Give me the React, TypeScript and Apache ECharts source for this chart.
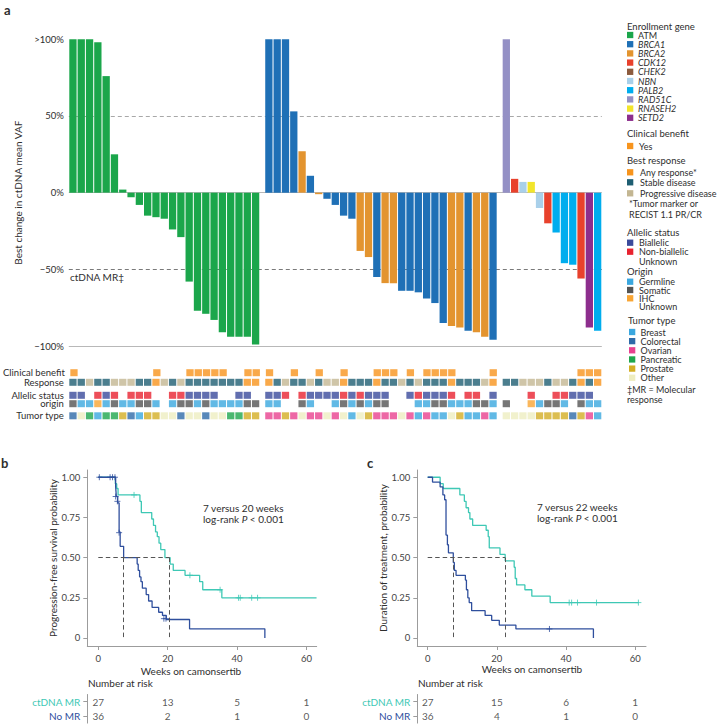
import React, { useEffect, useRef } from "react";
import * as echarts from "echarts";

const FONT = "Lato, 'Noto Sans', 'DejaVu Sans', sans-serif";
const INK = "#2e2e2e";
const AXIS_GREY = "#9c9c9c";
const TEAL = "#3ec8b5";
const NAVY = "#2f4f9d";

// ---------------- Panel a: waterfall data ----------------
const groupSizes = [23, 28, 12];
const enrollmentGene = [
  "ATM", "ATM", "ATM", "ATM", "ATM",
  "ATM", "ATM", "ATM", "ATM", "ATM",
  "ATM", "ATM", "ATM", "ATM", "ATM",
  "ATM", "ATM", "ATM", "ATM", "ATM",
  "ATM", "ATM", "ATM",
  "BRCA1", "BRCA1", "BRCA1", "BRCA1", "BRCA2", "BRCA1", "BRCA2", "BRCA1", "BRCA1", "BRCA1",
  "BRCA1", "BRCA2", "BRCA2", "BRCA1", "BRCA2", "BRCA2", "BRCA1", "BRCA1", "BRCA1", "BRCA1",
  "BRCA1", "BRCA1", "BRCA2", "BRCA2", "BRCA1", "BRCA2", "BRCA2", "BRCA1",
  "RAD51C", "CDK12", "NBN", "RNASEH2", "NBN", "CDK12", "PALB2", "PALB2", "PALB2", "CDK12", "SETD2", "PALB2",
];
const vafChange = [
  100, 100, 100, 98, 76, 25, 2, -3, -8, -15, -16, -17, -24, -29, -58, -77, -79, -83, -91, -94, -94, -94, -99,
  100, 100, 100, 53, 27, 11, -1, -4, -8, -15, -17, -38, -42, -55, -59, -59, -64, -64, -65, -69, -72, -85, -87, -88, -90, -91, -94, -96,
  100, 9, 7, 7, -10, -20, -26, -46, -47, -56, -88, -90,
];
const clinicalBenefit = [
  "Y", "", "", "", "", "", "", "", "", "", "Y", "", "", "", "Y", "Y", "Y", "Y", "Y", "", "", "Y", "Y",
  "Y", "", "", "Y", "", "", "Y", "", "", "Y", "", "", "", "Y", "Y", "Y", "", "Y", "", "Y", "Y", "Y", "Y", "", "", "", "", "Y",
  "", "", "", "", "", "", "", "", "", "Y", "Y", "Y",
];
const bestResponse = [
  "SD", "SD", "PD", "SD", "SD", "PD", "PD", "PD", "SD", "SD", "AR", "PD", "SD", "PD", "SD", "SD", "SD", "SD", "SD", "SD", "SD", "AR", "AR",
  "AR", "SD", "PD", "SD", "SD", "PD", "SD", "PD", "PD", "AR", "SD", "SD", "SD", "AR", "SD", "SD", "PD", "SD", "PD", "SD", "SD", "SD", "AR", "SD", "SD", "SD", "PD", "AR",
  "SD", "SD", "PD", "PD", "PD", "SD", "PD", "PD", "SD", "AR", "SD", "AR",
];
const allelicStatus = [
  "B", "B", "", "N", "B", "N", "", "N", "N", "N", "", "", "N", "N", "B", "B", "B", "B", "", "", "B", "B", "",
  "B", "B", "N", "", "N", "B", "B", "B", "B", "N", "B", "N", "B", "B", "B", "", "", "B", "N", "B", "B", "B", "N", "", "N", "N", "", "B",
  "", "", "", "N", "", "", "N", "N", "B", "B", "B", "",
];
const variantOrigin = [
  "S", "G", "G", "I", "G", "S", "G", "G", "S", "S", "G", "", "G", "S", "S", "G", "S", "G", "G", "G", "G", "S", "S",
  "G", "G", "", "", "S", "G", "", "", "G", "S", "G", "S", "G", "S", "S", "", "", "", "G", "G", "S", "S", "G", "G", "G", "S", "S", "G",
  "S", "", "", "I", "G", "S", "S", "G", "", "S", "G", "G",
];
const tumorType = [
  "Col", "Oth", "Pan", "Bre", "Pan", "Pan", "Pro", "Col", "Bre", "Pro", "Pro", "Oth", "Oth", "Col", "Oth", "Oth", "Col", "Oth", "Oth", "Pan", "Pan", "Pro", "Pro",
  "Ova", "Ova", "Pro", "Ova", "Oth", "Ova", "Ova", "Oth", "Ova", "Oth", "Bre", "Oth", "Pro", "Ova", "Ova", "Ova", "Oth", "Ova", "Bre", "Ova", "Bre", "Bre", "Oth", "Pro", "Bre", "Bre", "Ova", "Bre",
  "Oth", "Oth", "Oth", "Oth", "Pro", "Pro", "Pro", "Pro", "Col", "Pro", "Ova", "Bre",
];
const yTickValues = [-100, -50, 0, 50, 100];

// ---------------- Panels b, c: Kaplan-Meier data ----------------
const weekTicks = [0, 20, 40, 60];
const probTicks = [0, 0.25, 0.5, 0.75, 1];

const pfsMrWeeks = [0, 4.9, 5.3, 5.7, 12.0, 12.4, 15.4, 15.9, 16.5, 17.0, 17.5, 18.0, 19.2, 20.7, 21.6, 25.0, 29.2, 30.1, 35.6, 62.9];
const pfsMrSurv = [1, 0.96, 0.93, 0.89, 0.85, 0.78, 0.74, 0.7, 0.66, 0.63, 0.59, 0.55, 0.5, 0.46, 0.42, 0.39, 0.35, 0.3, 0.25, 0.25];
const pfsMrCensWeeks = [10.3, 26.4, 35.1, 40.4, 40.9, 44.2, 45.9];
const pfsMrCensSurv = [0.89, 0.39, 0.3, 0.25, 0.25, 0.25, 0.25];
const pfsNoWeeks = [0, 5.0, 5.2, 5.6, 6.0, 6.3, 7.3, 11.2, 11.5, 11.9, 12.3, 12.7, 13.8, 14.5, 15.5, 17.4, 18.5, 19.6, 26.3, 48.0];
const pfsNoSurv = [1, 0.94, 0.88, 0.84, 0.66, 0.57, 0.5, 0.46, 0.42, 0.38, 0.35, 0.31, 0.27, 0.23, 0.19, 0.16, 0.14, 0.115, 0.057, 0];
const pfsNoCensWeeks = [0.3, 3.4, 4.1, 4.8, 5.0, 5.5, 6.0, 18.9, 19.5];
const pfsNoCensSurv = [1, 1, 1, 1, 0.88, 0.85, 0.655, 0.12, 0.12];
const pfsMedians = [7.3, 20.5];
const pfsRiskMr = [27, 13, 5, 1];
const pfsRiskNo = [36, 2, 1, 0];

const dotMrWeeks = [0, 3.6, 4.5, 9.3, 10.6, 11.1, 11.8, 12.2, 13.0, 16.9, 17.5, 17.8, 20.9, 22.4, 25.0, 25.3, 25.7, 28.1, 30.1, 35.4, 60.9];
const dotMrSurv = [1, 0.96, 0.93, 0.89, 0.85, 0.81, 0.78, 0.74, 0.7, 0.67, 0.63, 0.56, 0.52, 0.48, 0.44, 0.37, 0.33, 0.3, 0.26, 0.22, 0.22];
const dotMrCensWeeks = [40.9, 41.6, 43.3, 48.8, 60.9];
const dotMrCensSurv = [0.22, 0.22, 0.22, 0.22, 0.22];
const dotNoWeeks = [0, 1.4, 3.6, 4.4, 4.9, 5.3, 5.7, 6.0, 7.4, 7.7, 8.2, 10.9, 11.2, 11.6, 12.0, 12.7, 16.6, 18.5, 20.7, 25.5, 47.9];
const dotNoSurv = [1, 0.97, 0.94, 0.89, 0.86, 0.64, 0.58, 0.53, 0.47, 0.42, 0.39, 0.36, 0.3, 0.25, 0.22, 0.17, 0.14, 0.11, 0.08, 0.056, 0];
const dotNoCensWeeks = [35.2];
const dotNoCensSurv = [0.056];
const dotMedians = [7.4, 22.4];
const dotRiskMr = [27, 15, 6, 1];
const dotRiskNo = [36, 4, 1, 0];

// ---------------- colours ----------------
const geneOrder = ["ATM", "BRCA1", "BRCA2", "CDK12", "CHEK2", "NBN", "PALB2", "RAD51C", "RNASEH2", "SETD2"];
const geneColors: Record<string, string> = {
  ATM: "#1ba64b", BRCA1: "#1f70b6", BRCA2: "#e3942f", CDK12: "#e8412c", CHEK2: "#8c5b3e",
  NBN: "#a9d0ea", PALB2: "#00adee", RAD51C: "#9490c5", RNASEH2: "#f2e52b", SETD2: "#8d2e8d",
};
const cbColors: Record<string, string> = { Y: "#f7941d" };
const respColors: Record<string, string> = { AR: "#f7941d", SD: "#1e5e72", PD: "#c3b692" };
const allelicColors: Record<string, string> = { B: "#3a4a9b", N: "#e8222f" };
const originColors: Record<string, string> = { G: "#3aa7df", S: "#545454", I: "#f9a533" };
const tumorColors: Record<string, string> = {
  Bre: "#3aa7df", Col: "#2e6aa8", Ova: "#e8418f", Pan: "#1ea64c", Pro: "#d3ae24", Oth: "#eeedc0",
};

const LEG = 9; // legend font size

function zip(a: number[], b: number[]) {
  return a.map((v, i) => [v, b[i]]);
}

function txt(x: number, y: number, text: string, opts: any = {}) {
  const size = opts.size || LEG;
  return {
    type: "text",
    x,
    y,
    silent: true,
    style: {
      text,
      fill: opts.color || INK,
      fontSize: size,
      fontFamily: FONT,
      fontWeight: opts.bold ? "bold" : "normal",
      fontStyle: opts.italic ? "italic" : "normal",
      lineHeight: size,
      align: opts.align || "left",
      verticalAlign: "middle",
      textAlign: opts.align || "left",
      textVerticalAlign: "middle",
      rich: opts.rich,
    },
  };
}

function buildOption() {
  const GAP = 0.6;
  const positions: number[] = [];
  let k = 0;
  groupSizes.forEach((n, gi) => {
    for (let j = 0; j < n; j++) {
      positions.push(k + gi * GAP);
      k++;
    }
  });
  const xMin = -0.5;
  const xMax = positions[positions.length - 1] + 0.5;
  const WF_LEFT = 68.8;
  const WF_WIDTH = 533;

  const grids: any[] = [];
  const xAxes: any[] = [];
  const yAxes: any[] = [];
  const series: any[] = [];

  // ---- waterfall ----
  grids.push({ left: WF_LEFT, top: 39.3, width: WF_WIDTH, height: 306.7 });
  xAxes.push({ type: "value", gridIndex: 0, min: xMin, max: xMax, show: false });
  yAxes.push({
    type: "value",
    gridIndex: 0,
    min: -100,
    max: 100,
    interval: 50,
    axisLine: { show: false },
    axisTick: { show: false },
    splitLine: { show: false },
    axisLabel: {
      fontSize: 9.5,
      color: INK,
      margin: 5,
      fontFamily: FONT,
      formatter: (v: number) => (v === 100 ? ">100%" : v < 0 ? "\u2212" + Math.abs(v) + "%" : v + "%"),
    },
    name: "Best change in ctDNA mean VAF",
    nameLocation: "middle",
    nameGap: 38,
    nameTextStyle: { fontSize: 10, color: INK, fontFamily: FONT },
  });
  series.push({
    type: "bar",
    xAxisIndex: 0,
    yAxisIndex: 0,
    barWidth: 7.3,
    z: 3,
    data: vafChange.map((v, i) => ({ value: [positions[i], v], itemStyle: { color: geneColors[enrollmentGene[i]] } })),
    markLine: {
      silent: true,
      z: 1,
      symbol: ["none", "none"],
      label: { show: false },
      data: [
        { yAxis: yTickValues[3], lineStyle: { type: [4, 3], color: "#a8a8a8", width: 1 } },
        { yAxis: yTickValues[1], lineStyle: { type: [4, 3], color: "#7a7a7a", width: 1 } },
        { yAxis: yTickValues[2], lineStyle: { type: "solid", color: "#b8b8b8", width: 1 } },
        { yAxis: yTickValues[0], lineStyle: { type: "solid", color: "#b8b8b8", width: 1 } },
      ],
    },
  });

  // ---- annotation tracks ----
  const tracks = [
    { label: "Clinical benefit", codes: clinicalBenefit, colors: cbColors, top: 369.2 },
    { label: "Response", codes: bestResponse, colors: respColors, top: 378.8 },
    { label: "Allelic status", codes: allelicStatus, colors: allelicColors, top: 391.8 },
    { label: "origin", codes: variantOrigin, colors: originColors, top: 400.2 },
    { label: "Tumor type", codes: tumorType, colors: tumorColors, top: 412.3 },
  ];
  tracks.forEach((t) => {
    const gi = grids.length;
    grids.push({ left: WF_LEFT, width: WF_WIDTH, top: t.top, height: 7 });
    xAxes.push({ type: "value", gridIndex: gi, min: xMin, max: xMax, show: false });
    yAxes.push({
      type: "category",
      gridIndex: gi,
      data: [t.label],
      axisLine: { show: false },
      axisTick: { show: false },
      splitLine: { show: false },
      axisLabel: { fontSize: 9.5, lineHeight: 9, color: INK, margin: 5, fontFamily: FONT },
    });
    const data: any[] = [];
    t.codes.forEach((c, i) => {
      if (c) data.push({ value: [positions[i], 0], itemStyle: { color: (t.colors as any)[c] } });
    });
    series.push({
      type: "scatter",
      xAxisIndex: gi,
      yAxisIndex: gi,
      symbol: "rect",
      symbolSize: [7.3, 7],
      data,
    });
  });

  // ---- KM panels ----
  const panels = [
    {
      left: 87.3, width: 229.4, xmin: -3.17, xmax: 62.94,
      yName: "Progression-free survival probability", yNameGap: 27,
      mrT: pfsMrWeeks, mrS: pfsMrSurv, mrCT: pfsMrCensWeeks, mrCS: pfsMrCensSurv,
      noT: pfsNoWeeks, noS: pfsNoSurv, noCT: pfsNoCensWeeks, noCS: pfsNoCensSurv,
      med: pfsMedians, riskMr: pfsRiskMr, riskNo: pfsRiskNo,
    },
    {
      left: 417.3, width: 228.7, xmin: -3.0, xmax: 63.1,
      yName: "Duration of treatment, probability", yNameGap: 29,
      mrT: dotMrWeeks, mrS: dotMrSurv, mrCT: dotMrCensWeeks, mrCS: dotMrCensSurv,
      noT: dotNoWeeks, noS: dotNoSurv, noCT: dotNoCensWeeks, noCS: dotNoCensSurv,
      med: dotMedians, riskMr: dotRiskMr, riskNo: dotRiskNo,
    },
  ];
  const plus = "path://M5 0 L5 10 M0 5 L10 5";
  panels.forEach((p) => {
    const gi = grids.length;
    grids.push({ left: p.left, width: p.width, top: 470, height: 176 });
    xAxes.push({
      type: "value",
      gridIndex: gi,
      min: p.xmin,
      max: p.xmax,
      splitLine: { show: false },
      axisLine: { show: true, onZero: false, lineStyle: { color: AXIS_GREY, width: 1 } },
      axisTick: { show: true, length: 4, customValues: weekTicks, lineStyle: { color: AXIS_GREY } },
      axisLabel: { customValues: weekTicks, fontSize: 9.5, color: "#444", margin: 7, fontFamily: FONT },
    });
    yAxes.push({
      type: "value",
      gridIndex: gi,
      min: -0.05,
      max: 1.045,
      splitLine: { show: false },
      axisLine: { show: true, onZero: false, lineStyle: { color: AXIS_GREY, width: 1 } },
      axisTick: { show: true, length: 4, customValues: probTicks, lineStyle: { color: AXIS_GREY } },
      axisLabel: {
        customValues: probTicks,
        fontSize: 9.5,
        color: "#444",
        margin: 7,
        fontFamily: FONT,
        formatter: (v: number) => (v === 0 ? "0" : v.toFixed(2)),
      },
      name: p.yName,
      nameLocation: "middle",
      nameGap: p.yNameGap,
      nameTextStyle: { fontSize: 10, color: INK, fontFamily: FONT },
    });
    series.push({
      type: "line",
      xAxisIndex: gi,
      yAxisIndex: gi,
      step: "end",
      showSymbol: false,
      lineStyle: { color: TEAL, width: 1.3 },
      data: zip(p.mrT, p.mrS),
      z: 3,
      markLine: {
        silent: true,
        symbol: ["none", "none"],
        label: { show: false },
        lineStyle: { color: "#555", type: [4.5, 3], width: 1 },
        data: [
          [{ coord: [0, 0.5] }, { coord: [p.med[1], 0.5] }],
          [{ coord: [p.med[0], 0.5] }, { coord: [p.med[0], 0] }],
          [{ coord: [p.med[1], 0.5] }, { coord: [p.med[1], 0] }],
        ],
      },
    });
    series.push({
      type: "line",
      xAxisIndex: gi,
      yAxisIndex: gi,
      step: "end",
      showSymbol: false,
      lineStyle: { color: NAVY, width: 1.3 },
      data: zip(p.noT, p.noS),
      z: 3,
    });
    series.push({
      type: "scatter",
      xAxisIndex: gi,
      yAxisIndex: gi,
      symbol: plus,
      symbolSize: 6,
      itemStyle: { color: "none", borderColor: TEAL, borderWidth: 1 },
      data: zip(p.mrCT, p.mrCS),
      z: 4,
    });
    series.push({
      type: "scatter",
      xAxisIndex: gi,
      yAxisIndex: gi,
      symbol: plus,
      symbolSize: 6,
      itemStyle: { color: "none", borderColor: NAVY, borderWidth: 1 },
      data: zip(p.noCT, p.noCS),
      z: 4,
    });

    // risk table
    const ri = grids.length;
    grids.push({ left: p.left, width: p.width, top: 694.5, height: 28.6 });
    xAxes.push({ type: "value", gridIndex: ri, min: p.xmin, max: p.xmax, show: false });
    yAxes.push({
      type: "category",
      gridIndex: ri,
      data: ["No MR", "ctDNA MR"],
      axisLine: { show: true, onZero: false, lineStyle: { color: AXIS_GREY, width: 1 } },
      axisTick: { show: true, length: 4, alignWithLabel: true, lineStyle: { color: AXIS_GREY } },
      splitLine: { show: false },
      axisLabel: {
        fontSize: 10,
        margin: 7,
        fontFamily: FONT,
        color: (v: string) => (v === "ctDNA MR" ? TEAL : NAVY),
      },
    });
    const riskData: any[] = [];
    weekTicks.forEach((w, i) => {
      riskData.push([w, 1, p.riskMr[i]]);
      riskData.push([w, 0, p.riskNo[i]]);
    });
    series.push({
      type: "scatter",
      xAxisIndex: ri,
      yAxisIndex: ri,
      symbolSize: 1,
      itemStyle: { color: "rgba(0,0,0,0)" },
      label: {
        show: true,
        position: "inside",
        fontSize: 10,
        color: INK,
        fontFamily: FONT,
        formatter: (q: any) => String(q.value[2]),
      },
      data: riskData,
    });
  });

  // ---- graphic: panel letters, annotations, legend ----
  const g: any[] = [];
  g.push(txt(4, 10, "a", { bold: true, size: 13 }));
  g.push(txt(1, 463, "b", { bold: true, size: 13 }));
  g.push(txt(367, 463, "c", { bold: true, size: 13 }));
  g.push(txt(70, 277, "ctDNA MR\u2021", { size: 10 }));

  g.push(txt(191, 670.7, "Weeks on camonsertib", { size: 10, align: "center" }));
  g.push(txt(532, 669.3, "Weeks on camonsertib", { size: 10, align: "center" }));
  g.push(txt(203, 507.5, "7 versus 20 weeks", { size: 10 }));
  g.push(txt(537, 507, "7 versus 22 weeks", { size: 10 }));
  const richP = {
    n: { fontSize: 10, fontFamily: FONT, fill: INK, color: INK },
    i: { fontSize: 10, fontFamily: FONT, fontStyle: "italic", fill: INK, color: INK },
  };
  g.push(txt(203, 519, "{n|log-rank }{i|P}{n| < 0.001}", { size: 10, rich: richP }));
  g.push(txt(537, 518, "{n|log-rank }{i|P}{n| < 0.001}", { size: 10, rich: richP }));
  g.push(txt(88, 683.3, "Number at risk", { size: 10 }));
  g.push(txt(418, 682.7, "Number at risk", { size: 10 }));

  // legend
  const SQ = 6.3;
  const sq = (x: number, y: number, color: string) => ({
    type: "rect",
    silent: true,
    shape: { x, y: y - SQ / 2, width: SQ, height: SQ },
    style: { fill: color },
  });
  g.push(txt(627, 26, "Enrollment gene", { size: 9.5 }));
  geneOrder.forEach((name, i) => {
    const y = 35 + i * 9.2;
    g.push(sq(627, y, geneColors[name]));
    g.push(txt(638, y, name, { italic: name !== "ATM" }));
  });
  g.push(txt(627, 133.3, "Clinical benefit", { size: 9.5 }));
  g.push(sq(627, 146, cbColors.Y));
  g.push(txt(639, 146, "Yes"));
  g.push(txt(627, 160, "Best response", { size: 9.5 }));
  [["AR", "Any response*", 172.3], ["SD", "Stable disease", 182.3], ["PD", "Progressive disease", 193.3]].forEach((r: any) => {
    g.push(sq(627, r[2], respColors[r[0]]));
    g.push(txt(640, r[2], r[1]));
  });
  g.push(txt(629, 203.3, "*Tumor marker or"));
  g.push(txt(629, 214, "RECIST 1.1 PR/CR"));
  g.push(txt(627, 232.3, "Allelic status", { size: 9.5 }));
  g.push(sq(627, 242.7, allelicColors.B));
  g.push(txt(639, 242.7, "Biallelic"));
  g.push(sq(627, 251.7, allelicColors.N));
  g.push(txt(639, 251.7, "Non-biallelic"));
  g.push(txt(639, 261.7, "Unknown"));
  g.push(txt(627, 271, "Origin", { size: 9.5 }));
  [["G", "Germline", 281.7], ["S", "Somatic", 290], ["I", "IHC", 298.3]].forEach((r: any) => {
    g.push(sq(627, r[2], originColors[r[0]]));
    g.push(txt(639, r[2], r[1]));
  });
  g.push(txt(639, 306.7, "Unknown"));
  g.push(txt(628, 320, "Tumor type", { size: 9.5 }));
  [["Bre", "Breast"], ["Col", "Colorectal"], ["Ova", "Ovarian"], ["Pan", "Pancreatic"], ["Pro", "Prostate"], ["Oth", "Other"]].forEach(
    (r, i) => {
      const y = 332 + i * 9.15;
      g.push(sq(629, y, tumorColors[r[0]]));
      g.push(txt(640.5, y, r[1]));
    }
  );
  g.push(txt(627, 389, "\u2021MR = Molecular"));
  g.push(txt(627, 399, "response"));

  return {
    animation: false,
    backgroundColor: "#ffffff",
    textStyle: { fontFamily: FONT },
    grid: grids,
    xAxis: xAxes,
    yAxis: yAxes,
    series,
    graphic: { elements: g },
  };
}

export default function App() {
  const ref = useRef<HTMLDivElement>(null);
  useEffect(() => {
    document.body.style.margin = "0";
    const chart = echarts.init(ref.current as HTMLDivElement, undefined, { renderer: "svg", width: 722, height: 726 });
    chart.setOption(buildOption() as any);
    return () => chart.dispose();
  }, []);
  return <div ref={ref} style={{ width: 722, height: 726, position: "absolute", left: 0, top: 0 }} />;
}
